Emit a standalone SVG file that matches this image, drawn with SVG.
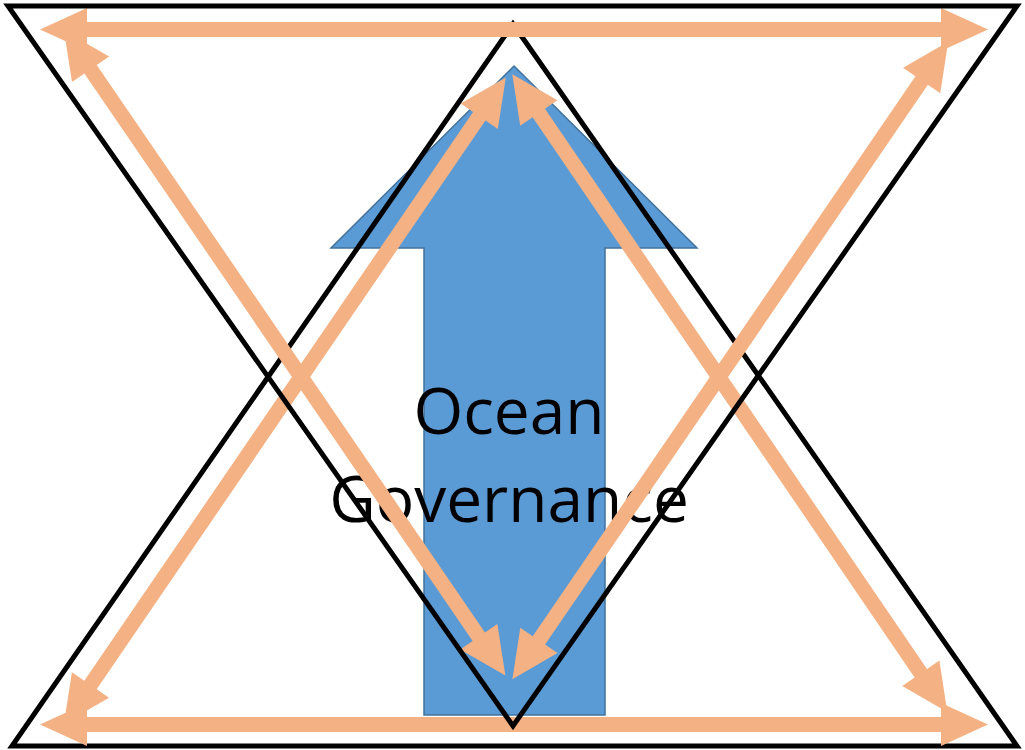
<svg xmlns="http://www.w3.org/2000/svg" width="1025" height="750" viewBox="0 0 1025 750">
  <defs>
    <style>
      .frame { fill: none; stroke: #000000; stroke-width: 5; stroke-linejoin: miter; }
      .flow { fill: #F4B183; stroke: none; }
      .big-arrow { fill: #5B9BD5; stroke: #41719C; stroke-width: 1.5; }
      .label { font-family: "Open Sans", "Liberation Sans", sans-serif; font-size: 64px; fill: #000000; text-anchor: middle; }
    </style>
  </defs>

  <rect x="0" y="0" width="1025" height="750" fill="#FFFFFF"/>

  <!-- central upward arrow with its label -->
  <g id="ocean-governance">
    <polygon class="big-arrow" points="514,66 697,248 605,248 605,715 424,715 424,248 331,248"/>
    <text class="label" x="509" y="434">Ocean</text>
    <text class="label" x="509" y="522">Governance</text>
  </g>

  <!-- upward-pointing triangle -->
  <g id="triangle-up">
    <polygon class="frame" points="513,24 1017,746 12,746"/>
  </g>

  <!-- double-headed flow arrows -->
  <g id="connectors">
    <!-- top edge -->
    <polygon class="flow" transform="translate(40,29.5)" points="0,0 47,-21.5 47,-7.5 901,-7.5 901,-21.5 948,0 901,21.5 901,7.5 47,7.5 47,21.5"/>
    <!-- bottom edge -->
    <polygon class="flow" transform="translate(40,724.5)" points="0,0 47,-21.5 47,-7.5 901,-7.5 901,-21.5 948,0 901,21.5 901,7.5 47,7.5 47,21.5"/>
    <!-- top-left to bottom-centre -->
    <polygon class="flow" transform="translate(64,30.4) rotate(55.62)" points="0,0 47,-22.5 47,-7.5 734.6,-7.5 734.6,-22.5 781.6,0 734.6,22.5 734.6,7.5 47,7.5 47,22.5"/>
    <!-- top-centre to bottom-left -->
    <polygon class="flow" transform="translate(505.8,77.5) rotate(124.36)" points="0,0 47,-22.5 47,-7.5 735.9,-7.5 735.9,-22.5 782.9,0 735.9,22.5 735.9,7.5 47,7.5 47,22.5"/>
    <!-- top-centre to bottom-right -->
    <polygon class="flow" transform="translate(512.3,74.2) rotate(55.71)" points="0,0 47,-22.5 47,-7.5 725.1,-7.5 725.1,-22.5 772.1,0 725.1,22.5 725.1,7.5 47,7.5 47,22.5"/>
    <!-- top-right to bottom-centre -->
    <polygon class="flow" transform="translate(948.2,41.7) rotate(124.36)" points="0,0 47,-22.5 47,-7.5 725.2,-7.5 725.2,-22.5 772.2,0 725.2,22.5 725.2,7.5 47,7.5 47,22.5"/>
  </g>

  <!-- downward-pointing triangle -->
  <g id="triangle-down">
    <polygon class="frame" points="8,6 1017,6 513,726"/>
  </g>
</svg>
